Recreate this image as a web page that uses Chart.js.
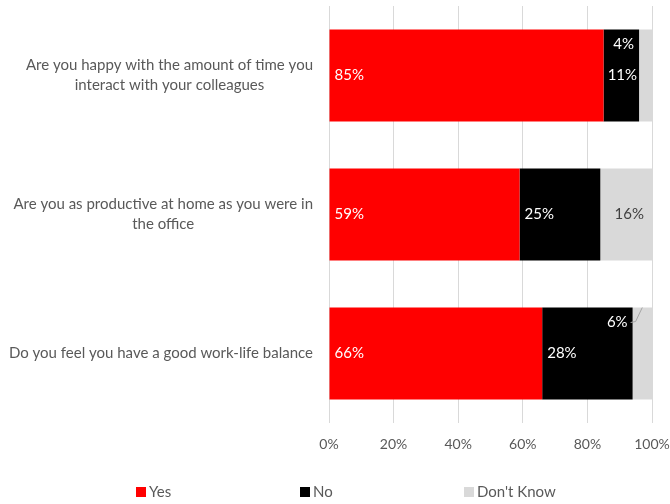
<!DOCTYPE html>
<html>
<head>
<meta charset="utf-8">
<script src="https://cdn.jsdelivr.net/npm/chart.js@4.4.1/dist/chart.umd.min.js"></script>
<style>
  html, body { margin: 0; padding: 0; background: #fff; }
  #wrap { width: 670px; height: 504px; }
</style>
</head>
<body>
<div id="wrap"><canvas id="surveyChart"></canvas></div>
<script>
const questions = [
  ['Are you happy with the amount of time you', 'interact with your colleagues'],
  ['Are you as productive at home as you were in', 'the office'],
  ['Do you feel you have a good work-life balance']
]
const yesValues = [85, 59, 66]
const noValues = [11, 25, 28]
const dontKnowValues = [4, 16, 6]
const xTicks = [0, 20, 40, 60, 80, 100]
const seriesNames = ['Yes', 'No', "Don't Know"]

const FONT = 'Lato, "Liberation Sans", sans-serif'
const TEXT_GREY = '#595959'
const colors = ['#ff0000', '#000000', '#d9d9d9']

// question text, right aligned block with the lines centred on each other
const questionLabels = {
  id: 'questionLabels',
  afterDraw(chart) {
    const ctx = chart.ctx
    const meta = chart.getDatasetMeta(0)
    const rightEdge = chart.chartArea.left - 16
    const lineH = 20
    ctx.save()
    ctx.font = '15px ' + FONT
    ctx.fillStyle = TEXT_GREY
    ctx.textAlign = 'center'
    ctx.textBaseline = 'middle'
    questions.forEach((lines, i) => {
      const widest = Math.max(...lines.map(l => ctx.measureText(l).width))
      const cx = rightEdge - widest / 2
      const y0 = meta.data[i].y - (lines.length - 1) * lineH / 2
      lines.forEach((l, j) => ctx.fillText(l, cx, y0 + j * lineH))
    })
    ctx.restore()
  }
}

// percentage labels on each segment; narrow segments get a callout
const segmentLabels = {
  id: 'segmentLabels',
  afterDatasetsDraw(chart, args, opts) {
    const ctx = chart.ctx
    ctx.save()
    ctx.font = '15px ' + FONT
    ctx.textBaseline = 'middle'
    chart.data.datasets.forEach((ds, di) => {
      chart.getDatasetMeta(di).data.forEach((bar, i) => {
        const text = ds.data[i] + '%'
        const w = ctx.measureText(text).width
        const left = Math.min(bar.x, bar.base)
        const right = Math.max(bar.x, bar.base)
        if (di < 2) {
          ctx.fillStyle = '#ffffff'
          ctx.textAlign = 'left'
          ctx.fillText(text, Math.min(left + 5, right - w - 2), bar.y)
        } else if (right - left > w + 12) {
          ctx.fillStyle = '#404040'
          ctx.textAlign = 'right'
          ctx.fillText(text, right - 8, bar.y)
        } else {
          const tx = left - 5
          const ty = bar.y - 31
          ctx.fillStyle = '#ffffff'
          ctx.textAlign = 'right'
          ctx.fillText(text, tx, ty)
          if (opts.leaders[i]) {
            const top = bar.y - bar.height / 2
            ctx.strokeStyle = '#a6a6a6'
            ctx.lineWidth = 1
            ctx.beginPath()
            ctx.moveTo(tx + 3, ty)
            ctx.lineTo(tx + 8, ty - 1)
            ctx.lineTo((left + right) / 2, top)
            ctx.stroke()
          }
        }
      })
    })
    ctx.restore()
  }
}

// legend laid out in equal columns along the bottom
const bottomLegend = {
  id: 'bottomLegend',
  afterDraw(chart, args, opts) {
    const ctx = chart.ctx
    ctx.save()
    ctx.font = '15px ' + FONT
    ctx.textAlign = 'left'
    ctx.textBaseline = 'middle'
    seriesNames.forEach((name, i) => {
      const x = opts.startX + i * opts.stride
      ctx.fillStyle = colors[i]
      ctx.fillRect(x, opts.y - 5, 10, 10)
      ctx.fillStyle = TEXT_GREY
      ctx.fillText(name, x + 13, opts.y)
    })
    ctx.restore()
  }
}

const series = [yesValues, noValues, dontKnowValues]

new Chart(document.getElementById('surveyChart'), {
  type: 'bar',
  data: {
    labels: questions,
    datasets: series.map((values, i) => ({
      label: seriesNames[i],
      data: values,
      backgroundColor: colors[i],
      borderWidth: 0,
      barPercentage: 0.662,
      categoryPercentage: 1
    }))
  },
  options: {
    indexAxis: 'y',
    responsive: true,
    maintainAspectRatio: false,
    animation: false,
    layout: {
      padding: { left: 329, right: 18, top: 6, bottom: 51 }
    },
    plugins: {
      legend: { display: false },
      tooltip: { enabled: false },
      segmentLabels: { leaders: [false, false, true] },
      bottomLegend: { startX: 136, stride: 164, y: 492 }
    },
    scales: {
      x: {
        stacked: true,
        min: 0,
        max: 100,
        afterBuildTicks: axis => { axis.ticks = xTicks.map(v => ({ value: v })) },
        afterFit: axis => { axis.height = 30; axis.paddingRight = 0; axis.paddingLeft = 0 },
        grid: { color: '#d9d9d9', drawTicks: false },
        border: { display: false },
        ticks: {
          padding: 13,
          maxRotation: 0,
          color: TEXT_GREY,
          font: { family: FONT, size: 14 },
          callback: v => v + '%'
        }
      },
      y: {
        stacked: true,
        display: false
      }
    }
  },
  plugins: [questionLabels, segmentLabels, bottomLegend]
})
</script>
</body>
</html>
